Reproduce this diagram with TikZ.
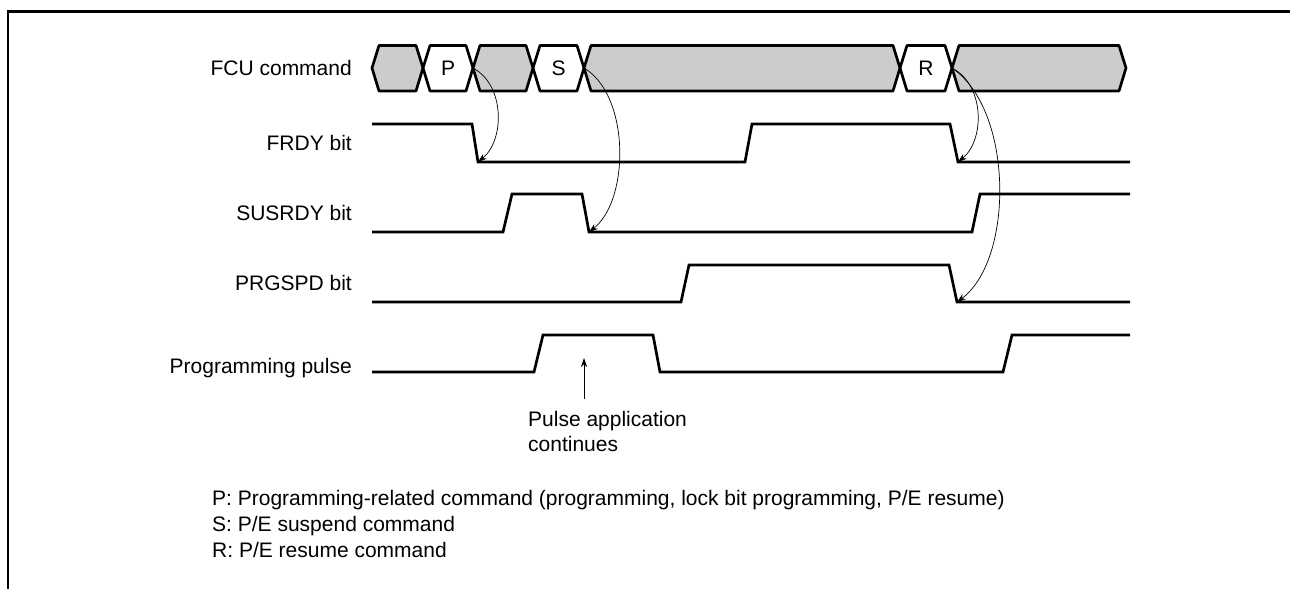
\documentclass[tikz,border=0pt]{standalone}
\usepackage{fontspec}
\setmainfont{Liberation Sans}
\usetikzlibrary{arrows.meta,positioning}
\definecolor{BusGrey}{HTML}{CCCCCC}

\begin{document}
\begin{tikzpicture}[x=1pt,y=-1pt,
    txt/.style={font=\fontsize{21}{25}\selectfont,inner sep=0pt},
    siglabel/.style={txt,anchor=base east},
    wave/.style={line width=2.7pt,line join=miter},
    bus/.style={line width=2.7pt,line join=round},
    cause/.style={-{Stealth[length=9pt,width=6pt]},line width=0.7pt}
  ]
  \useasboundingbox (0,0) rectangle (1290,589);
  \draw[line width=2.7pt] (8,589) -- (8,11.7) -- (1290,11.7);

  \node[siglabel] (lblfcu) at (352,75) {FCU command};
  \node[siglabel] (lblfrdy) at (352,150) {FRDY bit};
  \node[siglabel] (lblsusrdy) at (352,220) {SUSRDY bit};
  \node[siglabel] (lblprgspd) at (352,290) {PRGSPD bit};
  \node[siglabel] (lblpulse) at (352,373) {Programming pulse};

  \foreach \xa/\xb/\col in {372/423/BusGrey,423/473/white,473/533/BusGrey,533/584/white,
      584/900/BusGrey,900/952/white,952/1126/BusGrey}
    \fill[\col] (\xa,68) -- (\xa+7,45.5) -- (\xb-7,45.5) -- (\xb,68) -- (\xb-7,91) -- (\xa+7,91) -- cycle;
  \foreach \xa/\xb in {372/423,423/473,473/533,533/584,584/900,900/952,952/1126}
    \draw[bus] (\xa,68) -- (\xa+7,45.5) -- (\xb-7,45.5) -- (\xb,68) -- (\xb-7,91) -- (\xa+7,91) -- cycle;
  \node[txt] (cmdP) at (448,68) {P};
  \node[txt] (cmdS) at (558.5,68) {S};
  \node[txt] (cmdR) at (926,68) {R};
  \coordinate (pEnd) at (473,68);
  \coordinate (sEnd) at (584,68);
  \coordinate (rEnd) at (952,68);

  \draw[wave] (372,124) -- (472,124) -- (478,162) coordinate (frdyFallA) -- (745,162) -- (752,124)
    -- (950,124) -- (958,162) coordinate (frdyFallB) -- (1130,162);
  \draw[wave] (372,232) -- (503,232) -- (512,194) -- (582,194) -- (589,232) coordinate (susFall)
    -- (972,232) -- (980,194) -- (1130,194);
  \draw[wave] (372,302) -- (681,302) -- (689,265) -- (949,265) -- (957,302) coordinate (prgFall)
    -- (1130,302);
  \draw[wave] (372,372) -- (534,372) -- (543,335) -- (653,335) -- (660,372) -- (1003,372)
    -- (1012,335) -- (1130,335);

  \draw[cause] (pEnd) .. controls (505,85) and (505,140) .. (frdyFallA);
  \draw[cause] (sEnd) .. controls (630,95) and (630,200) .. (susFall);
  \draw[cause] (rEnd) .. controls (985,85) and (985,140) .. (frdyFallB);
  \draw[cause] (rEnd) .. controls (1014,110) and (1014,260) .. (prgFall);

  \node[txt,align=left,anchor=north west] (note) at (528,411) {Pulse application\\continues};
  \coordinate (noteTail) at (584,399);
  \coordinate (noteTip) at (584,358);
  \draw[cause] (noteTail) -- (noteTip);

  \node[txt,align=left,anchor=north west,font=\fontsize{21}{26}\selectfont] (legend) at (212,490)
    {P: Programming-related command (programming, lock bit programming, P/E resume)\\
     S: P/E suspend command\\
     R: P/E resume command};
\end{tikzpicture}
\end{document}
